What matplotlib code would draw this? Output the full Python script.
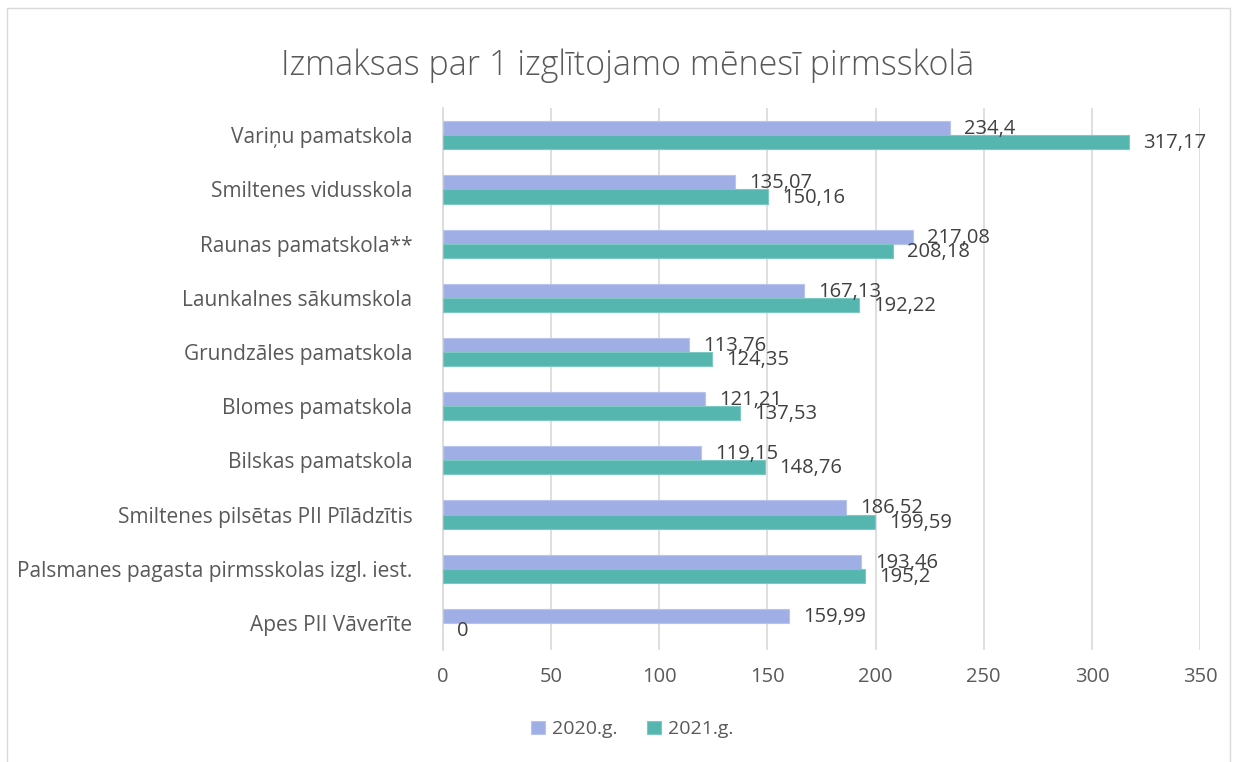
import matplotlib.pyplot as plt
import numpy as np
from matplotlib.patches import Rectangle

schools = ["Variņu pamatskola", "Smiltenes vidusskola", "Raunas pamatskola**",
           "Launkalnes sākumskola", "Grundzāles pamatskola", "Blomes pamatskola",
           "Bilskas pamatskola", "Smiltenes pilsētas PII Pīlādzītis",
           "Palsmanes pagasta pirmsskolas izgl. iest.", "Apes PII Vāverīte"]
y2020 = [234.4, 135.07, 217.08, 167.13, 113.76, 121.21, 119.15, 186.52, 193.46, 159.99]
y2021 = [317.17, 150.16, 208.18, 192.22, 124.35, 137.53, 148.76, 199.59, 195.2, 0]
series = ["2020.g.", "2021.g."]
colors = ["#9FAEE5", "#55B6B0"]
edges = ["#B9C4EE", "#7CC8C3"]

plt.rcParams['font.family'] = ['Open Sans', 'DejaVu Sans']
txt = "#595959"

fig = plt.figure(figsize=(12.35, 7.62), dpi=100)
ax = fig.add_axes([0.3587, 0.147, 0.613, 0.711])

pos = np.arange(len(schools))
h = 0.26
for vals, off, c, ec, name in [(y2020, -h / 2, colors[0], edges[0], series[0]),
                               (y2021, h / 2, colors[1], edges[1], series[1])]:
    lw = [0.8 if v else 0 for v in vals]
    bars = ax.barh(pos + off, vals, height=h, color=c, edgecolor=ec, linewidth=lw,
                   label=name, zorder=3)
    for b, v in zip(bars, vals):
        lab = f"{v:g}".replace('.', ',')
        ax.annotate(lab, (b.get_width(), b.get_y() + b.get_height() / 2),
                    xytext=(14, -1), textcoords='offset pixels', va='center', ha='left',
                    fontsize=14.5, color="#404040", zorder=5)

ax.set_ylim(len(schools) - 0.5, -0.5)
ax.set_yticks(pos)
ax.set_yticklabels(schools, fontsize=15, color=txt)
ax.set_xlim(0, 350)
ax.set_xticks(np.arange(0, 351, 50))
ax.tick_params(axis='x', labelsize=14.5, labelcolor=txt, length=0, pad=12)
ax.tick_params(axis='y', length=0, pad=22)
ax.grid(axis='x', color="#D9D9D9", linewidth=1.2, zorder=0)
for s in ['top', 'right', 'bottom']:
    ax.spines[s].set_visible(False)
ax.spines['left'].set_color("#D9D9D9")
ax.spines['left'].set_linewidth(1.2)

fig.suptitle("Izmaksas par 1 izglītojamo mēnesī pirmsskolā", x=0.508, y=0.937,
             fontsize=24.5, color=txt, fontweight='light')

fig.legend(loc='center', bbox_to_anchor=(0.512, 0.043), ncol=2, frameon=False,
           fontsize=14, labelcolor=txt, handlelength=0.7, handleheight=0.7,
           columnspacing=1.5, handletextpad=0.4)

fig.add_artist(Rectangle((0.006, -0.01), 0.99, 1.0, transform=fig.transFigure,
                         fill=False, edgecolor="#D9D9D9", linewidth=1))

fig.savefig("out.png", dpi=100)
